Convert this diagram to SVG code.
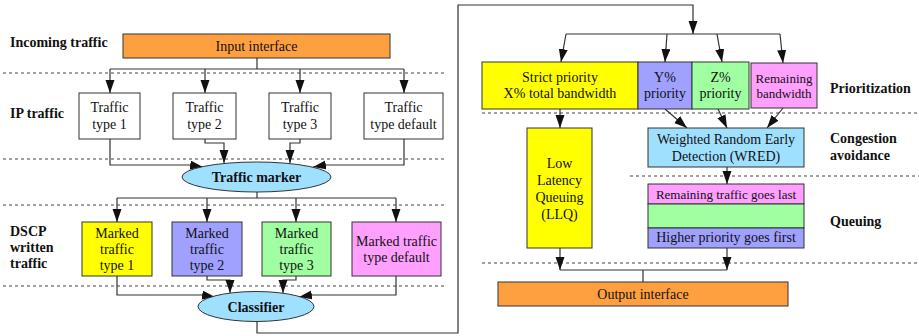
<svg xmlns="http://www.w3.org/2000/svg" width="919" height="336" viewBox="0 0 919 336">
<style>
.bg{fill:#fff}
.box{stroke:#333;stroke-width:1}
.t{font-family:"Liberation Serif","Times New Roman",serif;font-size:14px;fill:#111;text-anchor:middle}
.s{font-size:13px}
.lb{font-family:"Liberation Serif","Times New Roman",serif;font-size:14px;font-weight:bold;fill:#111}
.eb{font-weight:bold}
.dash{stroke:#444;stroke-width:1;stroke-dasharray:3,3;fill:none}
.c{stroke:#333;stroke-width:1.2;fill:none}
.a{marker-end:url(#ah)}
.or{fill:#FFA040}.ye{fill:#FFFF00}.bl{fill:#A0A0FF}.gr{fill:#A0FFA0}.pk{fill:#FFA0FF}.lb2{fill:#A0E0FF}.wh{fill:#fff}
</style>
<defs>
<marker id="ah" markerUnits="userSpaceOnUse" markerWidth="14" markerHeight="10" refX="13" refY="4.5" orient="auto">
<path d="M0,0 L13,4.5 L0,9 z" fill="#111"/>
</marker>
</defs>
<rect class="bg" x="0" y="0" width="919" height="336"/>

<g id="separators">
<line class="dash" x1="3" y1="73" x2="445" y2="73"/>
<line class="dash" x1="3" y1="159" x2="445" y2="159"/>
<line class="dash" x1="3" y1="205" x2="445" y2="205"/>
<line class="dash" x1="3" y1="286" x2="445" y2="286"/>
<line class="dash" x1="482" y1="113" x2="919" y2="113"/>
<line class="dash" x1="630" y1="176" x2="919" y2="176"/>
<line class="dash" x1="482" y1="263" x2="919" y2="263"/>
</g>

<g id="labels">
<text class="lb" x="10" y="47">Incoming traffic</text>
<text class="lb" x="10" y="118">IP traffic</text>
<text class="lb" x="10" y="236">DSCP</text>
<text class="lb" x="10" y="252">written</text>
<text class="lb" x="10" y="268">traffic</text>
<text class="lb" x="830" y="93">Prioritization</text>
<text class="lb" x="830" y="143">Congestion</text>
<text class="lb" x="830" y="160">avoidance</text>
<text class="lb" x="830" y="226">Queuing</text>
</g>

<g id="connectors">
<polyline class="c" points="257,58 257,69"/>
<line class="c" x1="110" y1="69" x2="404" y2="69"/>
<line class="c a" x1="110" y1="69" x2="110" y2="93"/>
<line class="c a" x1="205" y1="69" x2="205" y2="93"/>
<line class="c a" x1="300" y1="69" x2="300" y2="93"/>
<line class="c a" x1="404" y1="69" x2="404" y2="93"/>
<polyline class="c a" points="110,139 110,165 190,165 203,167"/>
<polyline class="c a" points="205,139 205,143 224,143 224,163"/>
<polyline class="c a" points="300,139 300,143 290,143 290,163"/>
<polyline class="c a" points="404,139 404,165 326,165 313,167"/>
<polyline class="c" points="257,192 257,198"/>
<line class="c" x1="117" y1="198" x2="396" y2="198"/>
<line class="c a" x1="117" y1="198" x2="117" y2="222"/>
<line class="c a" x1="207" y1="198" x2="207" y2="222"/>
<line class="c a" x1="296" y1="198" x2="296" y2="222"/>
<line class="c a" x1="396" y1="198" x2="396" y2="222"/>
<polyline class="c a" points="117,276 117,295 202,295 215,297"/>
<polyline class="c a" points="207,276 207,280 230,280 230,293"/>
<polyline class="c a" points="296,276 296,280 283,280 283,293"/>
<polyline class="c a" points="396,276 396,295 312,295 299,297"/>
<polyline class="c a" points="257,321 257,333 458,333 458,5 693,5 693,34"/>
<line class="c" x1="566" y1="34" x2="780" y2="34"/>
<line class="c a" x1="566" y1="34" x2="561" y2="62"/>
<line class="c a" x1="667" y1="34" x2="665" y2="62"/>
<line class="c a" x1="717" y1="34" x2="722" y2="62"/>
<line class="c a" x1="780" y1="34" x2="783" y2="63"/>
<line class="c a" x1="560" y1="109" x2="560" y2="128"/>
<line class="c a" x1="665" y1="109" x2="687" y2="128"/>
<line class="c a" x1="718" y1="109" x2="727" y2="128"/>
<line class="c a" x1="783" y1="108" x2="767" y2="128"/>
<line class="c a" x1="727" y1="167" x2="727" y2="184"/>
<line class="c a" x1="560" y1="248" x2="560" y2="270"/>
<line class="c a" x1="727" y1="248" x2="727" y2="270"/>
<line class="c" x1="560" y1="270" x2="727" y2="270"/>
<line class="c" x1="643" y1="270" x2="643" y2="282"/>
</g>

<g id="input-interface">
<rect class="box or" x="123" y="34" width="267" height="24"/>
<text class="t" x="256.5" y="51">Input interface</text>
</g>
<g id="traffic-type-1">
<rect class="box wh" x="79" y="93" width="61" height="46"/>
<text class="t" x="109.5" y="112">Traffic</text><text class="t" x="109.5" y="129">type 1</text>
</g>
<g id="traffic-type-2">
<rect class="box wh" x="173" y="93" width="63" height="46"/>
<text class="t" x="204.5" y="112">Traffic</text><text class="t" x="204.5" y="129">type 2</text>
</g>
<g id="traffic-type-3">
<rect class="box wh" x="269" y="93" width="62" height="46"/>
<text class="t" x="300" y="112">Traffic</text><text class="t" x="300" y="129">type 3</text>
</g>
<g id="traffic-type-default">
<rect class="box wh" x="364" y="93" width="79" height="46"/>
<text class="t" x="403.5" y="112">Traffic</text><text class="t" x="403.5" y="129">type default</text>
</g>
<g id="traffic-marker">
<ellipse class="box lb2" cx="256.5" cy="177" rx="74.5" ry="15"/>
<text class="t eb" x="256.5" y="182">Traffic marker</text>
</g>
<g id="marked-type-1">
<rect class="box ye" x="82" y="222" width="70" height="54"/>
<text class="t" x="117" y="238">Marked</text><text class="t" x="117" y="254">traffic</text><text class="t" x="117" y="270">type 1</text>
</g>
<g id="marked-type-2">
<rect class="box bl" x="172" y="222" width="70" height="54"/>
<text class="t" x="207" y="238">Marked</text><text class="t" x="207" y="254">traffic</text><text class="t" x="207" y="270">type 2</text>
</g>
<g id="marked-type-3">
<rect class="box gr" x="262" y="222" width="69" height="54"/>
<text class="t" x="296.5" y="238">Marked</text><text class="t" x="296.5" y="254">traffic</text><text class="t" x="296.5" y="270">type 3</text>
</g>
<g id="marked-type-default">
<rect class="box pk" x="352" y="222" width="89" height="54"/>
<text class="t" x="396.5" y="246">Marked traffic</text><text class="t" x="396.5" y="262">type default</text>
</g>
<g id="classifier">
<ellipse class="box lb2" cx="256" cy="306.5" rx="58" ry="15"/>
<text class="t eb" x="256" y="311.5">Classifier</text>
</g>

<g id="strict-priority">
<rect class="box ye" x="482" y="62" width="156" height="47"/>
<text class="t" x="560" y="81.5">Strict priority</text><text class="t" x="560" y="98">X% total bandwidth</text>
</g>
<g id="y-priority">
<rect class="box bl" x="638" y="62" width="54" height="47"/>
<text class="t" x="665" y="82">Y%</text><text class="t" x="665" y="98">priority</text>
</g>
<g id="z-priority">
<rect class="box gr" x="692" y="62" width="57" height="47"/>
<text class="t" x="720.5" y="82">Z%</text><text class="t" x="720.5" y="98">priority</text>
</g>
<g id="remaining-bandwidth">
<rect class="box pk" x="751" y="63" width="66" height="45"/>
<text class="t s" x="784" y="83">Remaining</text><text class="t s" x="784" y="98">bandwidth</text>
</g>
<g id="llq">
<rect class="box ye" x="527" y="128" width="65" height="120"/>
<text class="t" x="559.5" y="168">Low</text><text class="t" x="559.5" y="185">Latency</text><text class="t" x="559.5" y="202">Queuing</text><text class="t" x="559.5" y="219">(LLQ)</text>
</g>
<g id="wred">
<rect class="box lb2" x="648" y="128" width="156" height="39"/>
<text class="t" x="726" y="144">Weighted Random Early</text><text class="t" x="726" y="160.5">Detection (WRED)</text>
</g>
<g id="queue">
<rect class="box pk" x="648" y="184" width="156" height="20"/>
<rect class="box gr" x="648" y="204" width="156" height="24"/>
<rect class="box bl" x="648" y="228" width="156" height="20"/>
<text class="t s" x="726" y="199">Remaining traffic goes last</text>
<text class="t" x="726" y="242">Higher priority goes first</text>
</g>
<g id="output-interface">
<rect class="box or" x="498" y="282" width="290" height="24"/>
<text class="t" x="643" y="299">Output interface</text>
</g>
</svg>
